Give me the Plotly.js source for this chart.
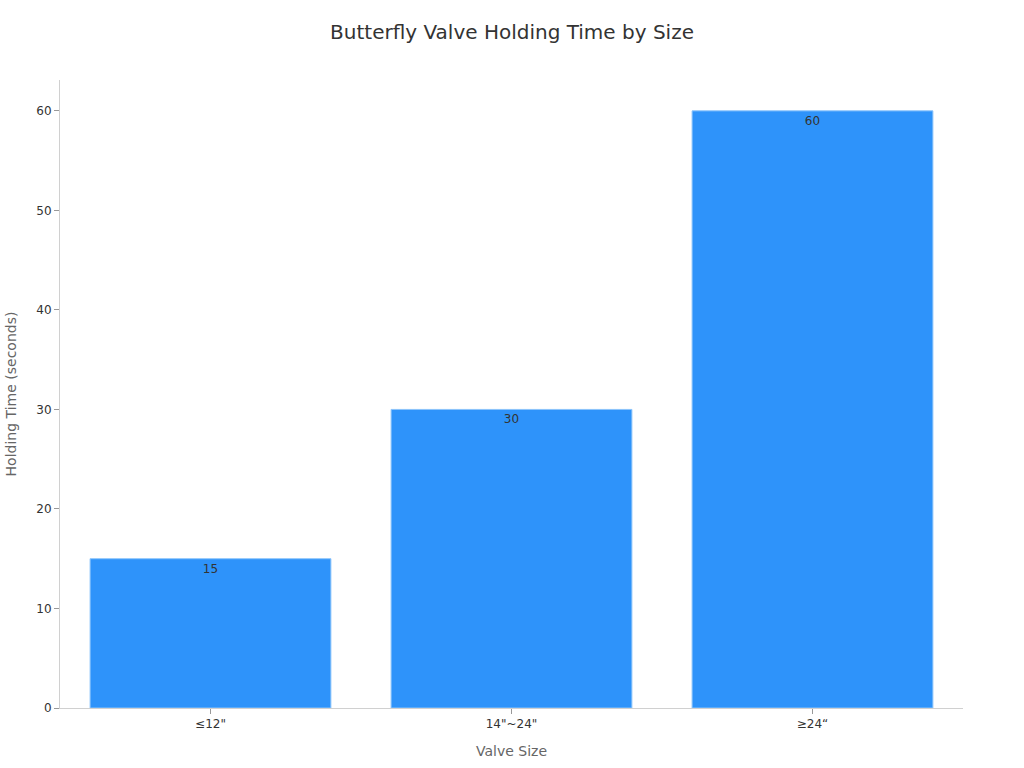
<!DOCTYPE html>
<html>
<head>
<meta charset="utf-8">
<script src="https://cdn.plot.ly/plotly-3.0.1.min.js"></script>
<style>
  html, body { margin: 0; padding: 0; background: #fff; }
  #chart { width: 1024px; height: 768px; }
</style>
</head>
<body>
<div id="chart"></div>
<script>
const sizes = ['≤12"', '14"~24"', '≥24“'];
const holdingTimes = [15, 30, 60];

const barColor = '#2e93fa';
const fontColor = '#333';
const axisColor = '#d0d0d0';

const trace = {
  type: 'bar',
  x: sizes,
  y: holdingTimes,
  text: holdingTimes.map(String),
  textposition: 'inside',
  insidetextanchor: 'end',
  textfont: { color: '#333', size: 12 },
  marker: {
    color: barColor,
    line: { color: '#8cc4fb', width: 1 }
  },
  hoverinfo: 'x+y'
};

Plotly.newPlot('chart', [trace], {
  width: 1024,
  height: 768,
  paper_bgcolor: '#fff',
  plot_bgcolor: '#fff',
  font: { family: 'DejaVu Sans, sans-serif', color: fontColor, size: 12 },
  margin: { t: 80, l: 60, r: 61, b: 60 },
  bargap: 0.2,
  showlegend: false,
  title: {
    text: 'Butterfly Valve Holding Time by Size',
    font: { size: 20, color: '#333' },
    x: 0.5,
    y: 0.967
  },
  xaxis: {
    showline: true,
    linecolor: axisColor,
    ticks: 'outside',
    ticklen: 5,
    tickcolor: '#999',
    showgrid: false,
    tickfont: { size: 12, color: '#333' },
    title: { text: 'Valve Size', font: { size: 14, color: '#666' }, standoff: 15 }
  },
  yaxis: {
    range: [0, 63.1],
    showline: true,
    linecolor: axisColor,
    ticks: 'outside',
    ticklen: 5,
    tickcolor: '#999',
    showgrid: false,
    zeroline: false,
    dtick: 10,
    tickfont: { size: 12, color: '#333' },
    title: { text: 'Holding Time (seconds)', font: { size: 14, color: '#666' }, standoff: 16 }
  }
}, { displayModeBar: false });
</script>
</body>
</html>
